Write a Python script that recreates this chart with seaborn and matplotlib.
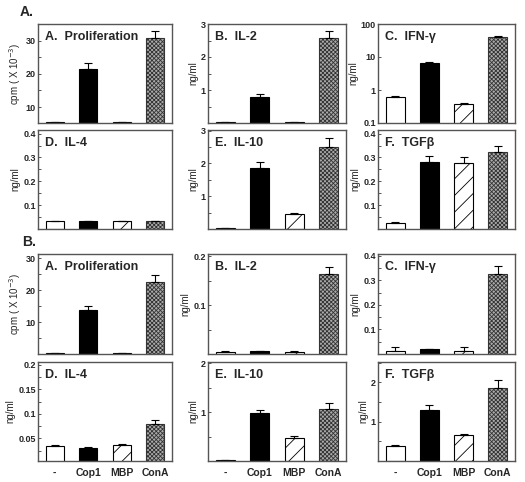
import matplotlib
matplotlib.use('Agg')
import matplotlib.pyplot as plt
from matplotlib.ticker import AutoMinorLocator, FixedLocator, NullLocator
import seaborn as sns
import pandas as pd
import numpy as np

# ---- data ----
groups = ['-', 'Cop1', 'MBP', 'ConA']

# section A
prolif_a = [5.4, 21.5, 5.4, 30.7]
prolif_a_err = [0.0, 1.7, 0.0, 2.3]
il2_a = [0.03, 0.80, 0.03, 2.57]
il2_a_err = [0.0, 0.07, 0.0, 0.23]
ifng_a = [0.61, 6.4, 0.37, 39.0]
ifng_a_err = [0.05, 0.5, 0.03, 3.0]
il4_a = [0.032, 0.033, 0.032, 0.032]
il4_a_err = [0.002, 0.002, 0.002, 0.002]
il10_a = [0.03, 1.85, 0.45, 2.50]
il10_a_err = [0.0, 0.18, 0.03, 0.27]
tgfb_a = [0.027, 0.280, 0.276, 0.323]
tgfb_a_err = [0.003, 0.027, 0.025, 0.027]

# section B
prolif_b = [0.3, 13.8, 0.3, 22.6]
prolif_b_err = [0.0, 1.2, 0.0, 2.0]
il2_b = [0.005, 0.006, 0.005, 0.163]
il2_b_err = [0.001, 0.001, 0.001, 0.016]
ifng_b = [0.013, 0.020, 0.013, 0.328]
ifng_b_err = [0.014, 0.0, 0.014, 0.029]
il4_b = [0.0355, 0.031, 0.037, 0.080]
il4_b_err = [0.001, 0.002, 0.002, 0.007]
il10_b = [0.02, 0.98, 0.48, 1.07]
il10_b_err = [0.0, 0.07, 0.04, 0.11]
tgfb_b = [0.37, 1.31, 0.65, 1.86]
tgfb_b_err = [0.04, 0.11, 0.05, 0.19]

# ---- styles ----
font_list = ['Liberation Sans', 'DejaVu Sans']
spine_color = '#555555'
bar_faces = ['white', 'black', 'white', '#ababab']
bar_hatches = ['', '', '//', 'xxxxxxxx']
bar_width = 0.55
title_fontsize = 9
tick_fontsize = 6.5
ylabel_fontsize = 7
xtick_fontsize = 7.5

sns.set_style('white')
plt.rcParams['font.family'] = font_list
plt.rcParams['hatch.linewidth'] = 0.6

W, H = 525, 482
fig = plt.figure(figsize=(W / 100, H / 100), dpi=100)

col_x = [(38, 172), (208, 346), (378, 515)]
row_y = [(24, 123), (130, 229), (254, 354), (362, 461)]


def make_ax(row, col):
    x0, x1 = col_x[col]
    y0, y1 = row_y[row]
    return fig.add_axes([x0 / W, 1 - y1 / H, (x1 - x0) / W, (y1 - y0) / H])


def draw_panel(ax, vals, errs, title, ylabel, ylim, yticks, yticklabels,
               log=False, show_x=False, minor=True):
    df = pd.DataFrame({'group': groups, 'value': vals})
    sns.barplot(data=df, x='group', y='value', hue='group', order=groups,
                hue_order=groups, palette=bar_faces, legend=False,
                width=bar_width, ax=ax, errorbar=None)
    for patch, hatch in zip(ax.patches, bar_hatches):
        patch.set_edgecolor('black')
        patch.set_linewidth(0.8)
        patch.set_hatch(hatch)
    ax.patches[3].set_edgecolor('#333333')
    x_pos = np.arange(len(groups))
    ax.errorbar(x_pos, vals, yerr=[np.zeros(len(errs)), errs], fmt='none',
                ecolor='black', elinewidth=0.8, capsize=3, capthick=0.8)
    if log:
        ax.set_yscale('log')
    ax.set_ylim(*ylim)
    ax.set_xlim(-0.5, 3.5)
    ax.yaxis.set_major_locator(FixedLocator(yticks))
    ax.set_yticklabels(yticklabels, fontsize=tick_fontsize, fontweight='bold')
    if log:
        ax.yaxis.set_minor_locator(NullLocator())
    elif minor:
        ax.yaxis.set_minor_locator(AutoMinorLocator(2))
    ax.tick_params(axis='y', which='both', direction='in', left=True,
                   length=2, width=0.7, pad=1.5, color=spine_color)
    ax.tick_params(axis='x', which='both', bottom=False, length=0)
    ax.set_xlabel('')
    ax.set_ylabel(ylabel, fontsize=ylabel_fontsize, labelpad=2)
    if show_x:
        ax.set_xticks(x_pos)
        ax.set_xticklabels(groups, fontsize=xtick_fontsize, fontweight='bold')
        ax.tick_params(axis='x', pad=5)
    else:
        ax.set_xticklabels([])
    for sp in ax.spines.values():
        sp.set_color(spine_color)
        sp.set_linewidth(1.0)
    ax.text(0.05, 0.87, title, transform=ax.transAxes, fontsize=title_fontsize,
            fontweight='bold', va='center', ha='left')


cpm_label = 'cpm ( X 10$^{-3}$)'

# section A
draw_panel(make_ax(0, 0), prolif_a, prolif_a_err, 'A.  Proliferation', cpm_label,
           (5.2, 35), [10, 20, 30], ['10', '20', '30'])
draw_panel(make_ax(0, 1), il2_a, il2_a_err, 'B.  IL-2', 'ng/ml',
           (0, 3), [1, 2, 3], ['1', '2', '3'])
draw_panel(make_ax(0, 2), ifng_a, ifng_a_err, 'C.  IFN-\u03b3', 'ng/ml',
           (0.1, 100), [0.1, 1, 10, 100], ['0.1', '1', '10', '100'], log=True)
draw_panel(make_ax(1, 0), il4_a, il4_a_err, 'D.  IL-4', 'ng/ml',
           (0, 0.415), [0.1, 0.2, 0.3, 0.4], ['0.1', '0.2', '0.3', '0.4'])
draw_panel(make_ax(1, 1), il10_a, il10_a_err, 'E.  IL-10', 'ng/ml',
           (0, 3.02), [1, 2, 3], ['1', '2', '3'])
draw_panel(make_ax(1, 2), tgfb_a, tgfb_a_err, 'F.  TGF\u03b2', 'ng/ml',
           (0, 0.415), [0.1, 0.2, 0.3, 0.4], ['0.1', '0.2', '0.3', '0.4'])

# section B
draw_panel(make_ax(2, 0), prolif_b, prolif_b_err, 'A.  Proliferation', cpm_label,
           (0, 31.3), [10, 20, 30], ['10', '20', '30'])
draw_panel(make_ax(2, 1), il2_b, il2_b_err, 'B.  IL-2', 'ng/ml',
           (0, 0.205), [0.1, 0.2], ['0.1', '0.2'])
draw_panel(make_ax(2, 2), ifng_b, ifng_b_err, 'C.  IFN-\u03b3', 'ng/ml',
           (0, 0.408), [0.1, 0.2, 0.3, 0.4], ['0.1', '0.2', '0.3', '0.4'])
draw_panel(make_ax(3, 0), il4_b, il4_b_err, 'D.  IL-4', 'ng/ml',
           (0.004, 0.206), [0.05, 0.1, 0.15, 0.2], ['0.05', '0.1', '0.15', '0.2'],
           show_x=True)
draw_panel(make_ax(3, 1), il10_b, il10_b_err, 'E.  IL-10', 'ng/ml',
           (0, 2.03), [1, 2], ['1', '2'], show_x=True)
draw_panel(make_ax(3, 2), tgfb_b, tgfb_b_err, 'F.  TGF\u03b2', 'ng/ml',
           (0, 2.52), [1, 2], ['1', '2'], show_x=True)

# section labels
fig.text(20 / W, 1 - 12 / H, 'A.', fontsize=10, fontweight='bold', va='center', ha='left')
fig.text(22 / W, 1 - 242 / H, 'B.', fontsize=10, fontweight='bold', va='center', ha='left')

fig.savefig('out.png', dpi=100)
